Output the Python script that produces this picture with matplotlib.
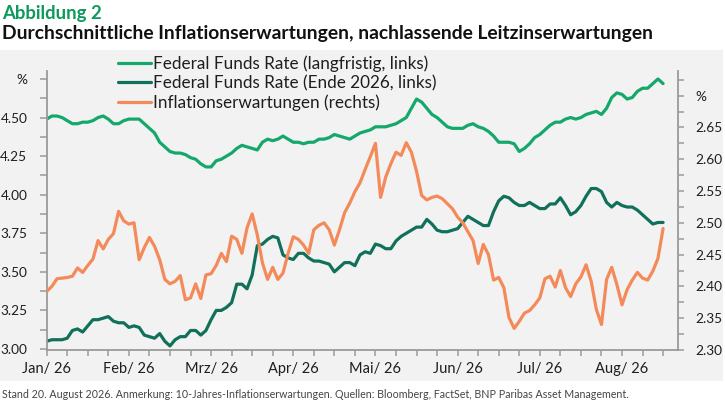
import matplotlib
matplotlib.use("Agg")
import matplotlib.pyplot as plt
import numpy as np
from matplotlib.patches import Rectangle

plt.rcParams['font.family'] = ['Lato', 'DejaVu Sans']

# ---------------- data ----------------
# x positions: one unit = one tick on the x axis (4 ticks per month), sampled every quarter unit
step = 0.25

fed_long = [
    4.49, 4.51, 4.51, 4.50, 4.48, 4.46, 4.46, 4.47,
    4.47, 4.48, 4.50, 4.51, 4.49, 4.46, 4.46, 4.48,
    4.49, 4.49, 4.49, 4.46, 4.43, 4.40, 4.34, 4.31,
    4.28, 4.27, 4.27, 4.26, 4.24, 4.23, 4.20, 4.18,
    4.18, 4.22, 4.23, 4.25, 4.27, 4.30, 4.32, 4.31,
    4.30, 4.29, 4.34, 4.36, 4.35, 4.36, 4.38, 4.36,
    4.34, 4.34, 4.33, 4.34, 4.34, 4.36, 4.36, 4.37,
    4.39, 4.38, 4.37, 4.36, 4.38, 4.40, 4.41, 4.42,
    4.44, 4.44, 4.44, 4.45, 4.46, 4.48, 4.50, 4.56,
    4.62, 4.60, 4.56, 4.52, 4.50, 4.47, 4.44, 4.43,
    4.43, 4.43, 4.45, 4.46, 4.44, 4.43, 4.41, 4.38,
    4.34, 4.34, 4.34, 4.33, 4.28, 4.30, 4.33, 4.37,
    4.39, 4.42, 4.45, 4.47, 4.47, 4.49, 4.50, 4.49,
    4.50, 4.52, 4.53, 4.54, 4.52, 4.56, 4.63, 4.66,
    4.65, 4.62, 4.63, 4.67, 4.69, 4.69, 4.72, 4.75,
    4.72,
]

fed_end2026 = [
    3.05, 3.06, 3.06, 3.06, 3.07, 3.12, 3.13, 3.11,
    3.15, 3.19, 3.19, 3.20, 3.21, 3.18, 3.17, 3.17,
    3.14, 3.15, 3.14, 3.09, 3.08, 3.07, 3.10, 3.05,
    3.02, 3.06, 3.08, 3.08, 3.12, 3.12, 3.09, 3.12,
    3.19, 3.25, 3.25, 3.27, 3.30, 3.42, 3.42, 3.39,
    3.48, 3.67, 3.68, 3.71, 3.73, 3.72, 3.61, 3.59,
    3.58, 3.62, 3.62, 3.59, 3.57, 3.57, 3.56, 3.55,
    3.50, 3.53, 3.56, 3.56, 3.54, 3.61, 3.63, 3.62,
    3.68, 3.67, 3.65, 3.65, 3.70, 3.73, 3.75, 3.77,
    3.79, 3.79, 3.84, 3.81, 3.77, 3.76, 3.76, 3.77,
    3.78, 3.82, 3.86, 3.84, 3.82, 3.80, 3.80, 3.89,
    3.96, 3.99, 3.98, 3.95, 3.93, 3.93, 3.95, 3.93,
    3.91, 3.91, 3.94, 3.94, 3.98, 3.93, 3.87, 3.89,
    3.93, 3.99, 4.04, 4.04, 4.02, 3.95, 3.92, 3.95,
    3.93, 3.92, 3.92, 3.90, 3.87, 3.84, 3.81, 3.82,
    3.82,
]

inflation = [
    2.392, 2.400, 2.412, 2.413, 2.414, 2.416, 2.429, 2.422,
    2.433, 2.443, 2.472, 2.459, 2.474, 2.483, 2.518, 2.503,
    2.498, 2.500, 2.442, 2.461, 2.477, 2.463, 2.442, 2.411,
    2.404, 2.408, 2.417, 2.379, 2.382, 2.404, 2.381, 2.418,
    2.420, 2.433, 2.452, 2.439, 2.479, 2.474, 2.452, 2.492,
    2.514, 2.481, 2.437, 2.411, 2.430, 2.411, 2.421, 2.452,
    2.478, 2.474, 2.465, 2.452, 2.489, 2.496, 2.500, 2.489,
    2.465, 2.489, 2.516, 2.531, 2.549, 2.563, 2.584, 2.604,
    2.625, 2.540, 2.572, 2.593, 2.611, 2.606, 2.626, 2.611,
    2.581, 2.543, 2.536, 2.540, 2.542, 2.538, 2.530, 2.522,
    2.509, 2.500, 2.486, 2.472, 2.436, 2.466, 2.450, 2.410,
    2.414, 2.398, 2.351, 2.334, 2.345, 2.358, 2.362, 2.371,
    2.382, 2.412, 2.416, 2.399, 2.425, 2.398, 2.384, 2.404,
    2.415, 2.434, 2.408, 2.364, 2.340, 2.411, 2.430, 2.403,
    2.371, 2.395, 2.410, 2.422, 2.413, 2.410, 2.424, 2.444,
    2.491,
]

month_labels = ['Jan/ 26', 'Feb/ 26', 'Mrz/ 26', 'Apr/ 26',
                'Mai/ 26', 'Jun/ 26', 'Jul/ 26', 'Aug/ 26']
left_ticks = [3.00, 3.25, 3.50, 3.75, 4.00, 4.25, 4.50, 4.75]
left_labels = ['3.00', '3.25', '3.50', '3.75', '4.00', '4.25', '4.50', '%']
right_ticks = [2.30, 2.35, 2.40, 2.45, 2.50, 2.55, 2.60, 2.65, 2.70]
right_labels = ['2.30', '2.35', '2.40', '2.45', '2.50', '2.55', '2.60', '2.65', '%']

series_names = ['Federal Funds Rate (langfristig, links)',
                'Federal Funds Rate (Ende 2026, links)',
                'Inflationserwartungen (rechts)']

title_small = 'Abbildung 2'
title_main = 'Durchschnittliche Inflationserwartungen, nachlassende Leitzinserwartungen'
footnote = ('Stand 20. August 2026. Anmerkung: 10-Jahres-Inflationserwartungen. '
            'Quellen: Bloomberg, FactSet, BNP Paribas Asset Management.')

# ---------------- styling ----------------
C_LONG = '#14a86b'
C_2026 = '#11705a'
C_INFL = '#f48a5a'
C_AXIS = '#9a9a9a'
C_TEXT = '#1e1e1e'
BG = '#f2f2f2'

W, H = 725, 403
fig = plt.figure(figsize=(W / 100, H / 100), dpi=100)
fig.patch.set_facecolor('white')
fig.patches.append(Rectangle((0, 1 - 381 / H), 723 / W, (381 - 50) / H,
                             transform=fig.transFigure, facecolor=BG,
                             edgecolor='none', zorder=-10))

ax = fig.add_axes([46.7 / W, 1 - 350 / H, (678.3 - 46.7) / W, (350 - 71) / H])
ax.patch.set_visible(False)
ax2 = ax.twinx()
ax2.patch.set_visible(False)

x1 = np.arange(len(fed_long)) * step
x2 = np.arange(len(fed_end2026)) * step
x3 = np.arange(len(inflation)) * step

lw = 2.3
l1, = ax.plot(x1, fed_long, color=C_LONG, lw=lw, solid_joinstyle='round', solid_capstyle='round')
l2, = ax.plot(x2, fed_end2026, color=C_2026, lw=lw, solid_joinstyle='round', solid_capstyle='round')
l3, = ax2.plot(x3, inflation, color=C_INFL, lw=lw, solid_joinstyle='round', solid_capstyle='round')

ax.set_xlim(0, 30.74)
ax.set_ylim(2.9935, 4.8017)
ax2.set_ylim(2.30, 2.7387)

# x ticks
ax.set_xticks(np.arange(0, 29, 4))
ax.set_xticklabels(month_labels)
ax.set_xticks(np.arange(0, 31, 1), minor=True)

# y ticks
ax.set_yticks(left_ticks)
ax.set_yticklabels(left_labels)
ax.set_yticks(np.arange(3.0, 4.8, 0.125), minor=True)
ax2.set_yticks(right_ticks)
ax2.set_yticklabels(right_labels)
ax2.set_yticks(np.arange(2.30, 2.735, 0.025), minor=True)

for a in (ax, ax2):
    a.spines['top'].set_visible(False)
ax.spines['right'].set_visible(False)
ax2.spines['left'].set_visible(False)
ax2.spines['bottom'].set_visible(False)
for sp in (ax.spines['left'], ax.spines['bottom'], ax2.spines['right']):
    sp.set_color(C_AXIS)
    sp.set_linewidth(1.3)

ax.tick_params(axis='x', which='both', direction='out', length=4, width=1.1,
               color=C_AXIS, pad=4.5, labelsize=10.5, labelcolor=C_TEXT)
ax.tick_params(axis='y', which='both', direction='out', length=5, width=1.1,
               color=C_AXIS, pad=9, labelsize=9.8, labelcolor=C_TEXT)
ax2.tick_params(axis='y', which='both', direction='out', length=4, width=1.1,
                color=C_AXIS, pad=8.5, labelsize=9.8, labelcolor=C_TEXT)

# legend
fig.legend([l1, l2, l3], series_names, loc='center left',
           bbox_to_anchor=(118 / W, 1 - 83.3 / H), frameon=False,
           borderpad=0, borderaxespad=0, handlelength=1.93, handletextpad=0.1,
           labelspacing=0.19, fontsize=12.3, labelcolor=C_TEXT)

# titles and footnote
fig.text(2 / W, 1 - 13 / H, title_small, fontsize=13.3, fontweight='bold',
         color='#0e9a5d', va='center', ha='left')
fig.text(2 / W, 1 - 33 / H, title_main, fontsize=13.9, fontweight='bold',
         color='#111111', va='center', ha='left')
fig.text(2 / W, 1 - 394.5 / H, footnote, fontsize=7.7, color='#444444',
         va='center', ha='left')

fig.savefig('out.png', dpi=100)
